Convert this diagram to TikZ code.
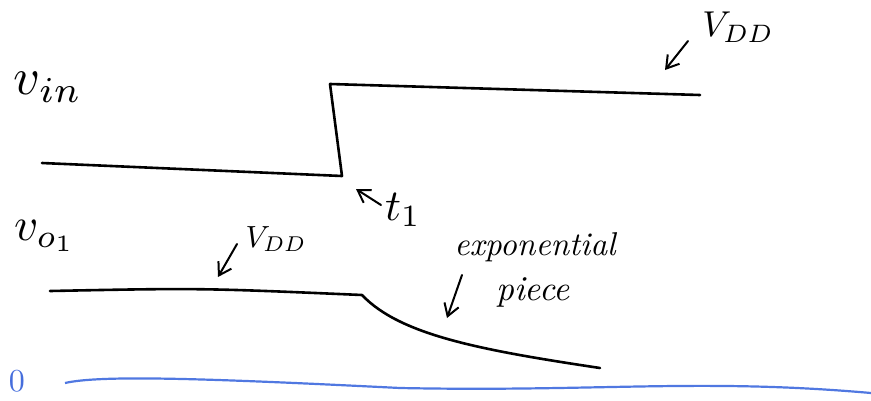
\documentclass[tikz,border=0pt]{standalone}
\usetikzlibrary{arrows.meta}
\begin{document}
\begin{tikzpicture}[x=1pt,y=-1pt,
  wave/.style={line width=2.6pt,line cap=round,line join=round},
  ptr/.style={line width=2pt,line cap=round,-{Straight Barb[length=12pt,width=15pt,line width=2pt]}},
  lbl/.style={inner sep=0pt,scale=5.2},
  sm/.style={inner sep=0pt,scale=3.6}]
\useasboundingbox (0,0) rectangle (871,400);
% v_in
\node[lbl] (vin) at (48,87) {$v_{in}$};
\coordinate (a1) at (42,163);
\coordinate (a2) at (342,176);
\coordinate (a3) at (330,84);
\coordinate (a4) at (700,95);
\draw[wave] (a1) -- (a2) -- (a3) -- (a4);
\node[sm] (vdd1) at (738,27) {$V_{DD}$};
\coordinate (p1s) at (688,41);
\coordinate (p1e) at (665,70);
\draw[ptr] (p1s) -- (p1e);
\node[lbl,scale=0.85] (t1) at (403,210) {$t_{1}$};
\coordinate (p2s) at (381,205);
\coordinate (p2e) at (356,189);
\draw[ptr] (p2s) -- (p2e);
% v_o1
\node[lbl,scale=0.9] (vo) at (45,236) {$v_{o_1}$};
\node[sm,scale=0.85] (vdd2) at (276,239) {$V_{DD}$};
\coordinate (p3s) at (237,244);
\coordinate (p3e) at (218,277);
\draw[ptr] (p3s) -- (p3e);
\coordinate (b1) at (50,291);
\coordinate (b2) at (362,295);
\coordinate (b3) at (600,368);
\draw[wave] (b1) .. controls (200,288) .. (b2) .. controls (400,335) and (480,350) .. (b3);
\node[inner sep=0pt,scale=3.3,font=\itshape] (exp) at (535,247) {exponential};
\node[inner sep=0pt,scale=3.5,font=\itshape] (pc) at (533,292) {piece};
\coordinate (p4s) at (462,275);
\coordinate (p4e) at (447,318);
\draw[ptr] (p4s) -- (p4e);
% zero
\node[inner sep=0pt,scale=3.2,text={rgb,255:red,70;green,110;blue,220}] (z) at (17,381) {0};
\coordinate (c1) at (65,383);
\coordinate (c2) at (871,393);
\draw[line width=2.2pt,color={rgb,255:red,80;green,120;blue,225}] (c1) .. controls (100,375) and (200,378) .. (400,388) .. controls (600,392) and (700,378) .. (c2);
\end{tikzpicture}
\end{document}
